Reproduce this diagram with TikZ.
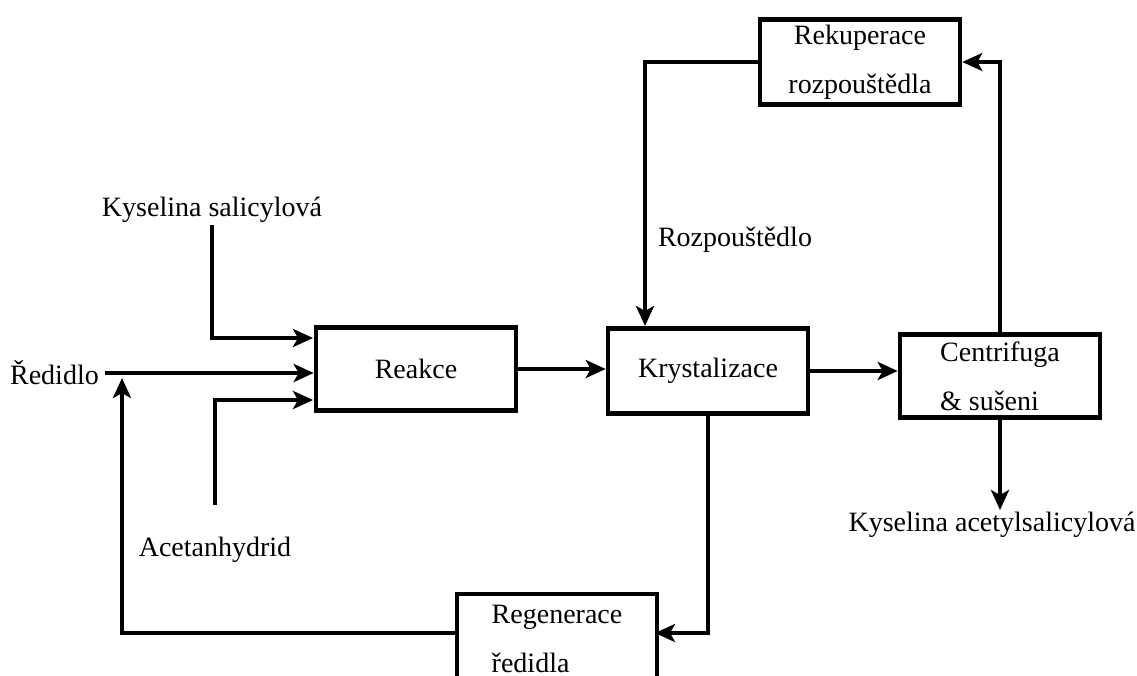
\documentclass[tikz,border=0pt]{standalone}
\usepackage{fontspec}
\setmainfont{Liberation Serif}
\usetikzlibrary{arrows.meta}
\begin{document}
\begin{tikzpicture}[x=1pt,y=-1pt,
  box/.style={draw, line width=4.6pt, minimum width=200pt, minimum height=83pt, inner sep=0pt, font=\fontsize{28}{49}\selectfont},
  lbl/.style={font=\fontsize{28}{32}\selectfont, inner sep=2pt},
  ln/.style={line width=4.2pt, line join=miter},
  arr/.style={ln, -{Stealth[length=20pt,width=18pt,inset=5pt]}}]
\useasboundingbox (0,0) rectangle (1137,675);
% boxes
\node[box] (reakce) at (416,369) {Reakce};
\node[box, minimum height=85pt] (kryst) at (708,371) {Krystalizace};
\node[box, align=left] (centr) at (1000,376) {Centrifuga\\\& sušeni};
\node[box, align=center, minimum height=85pt] (rekup) at (860,62) {Rekuperace\\rozpouštědla};
\node[box, align=left, minimum height=90pt] (regen) at (557,639) {Regenerace\\ředidla};
% labels
\node[lbl] (ks) at (212,210) {Kyselina salicylová};
\node[lbl, anchor=east] (red) at (101,373) {Ředidlo};
\node[lbl] (ac) at (215,550) {Acetanhydrid};
\node[lbl] (rozp) at (735,240) {Rozpouštědlo};
\node[lbl] (kas) at (992,525) {Kyselina acetylsalicylová};
% coordinates
\coordinate (r1) at (313,338);
\coordinate (r3) at (313,400);
\coordinate (acs) at (215,505);
\coordinate (ret) at (122,378);
\coordinate (rzx) at (645,326);
\coordinate (regin) at (655,633);
% connectors
\draw[arr] (ks.south) |- (r1);
\draw[arr, shorten <=4pt] (red.east) -- (red.east -| reakce.west);
\draw[arr] (acs) |- (r3);
\draw[arr] (reakce.east) -- (kryst.west |- reakce.east);
\draw[arr] (kryst.east) -- (centr.west |- kryst.east);
\draw[arr] (centr.north) |- (rekup.east);
\draw[arr] (rekup.west) -| (rzx);
\draw[arr] (centr.south) -- (centr.south |- kas.north);
\draw[arr] (kryst.south) |- (regin);
\draw[arr] (regen.west |- regin) -| (ret);
\end{tikzpicture}
\end{document}
